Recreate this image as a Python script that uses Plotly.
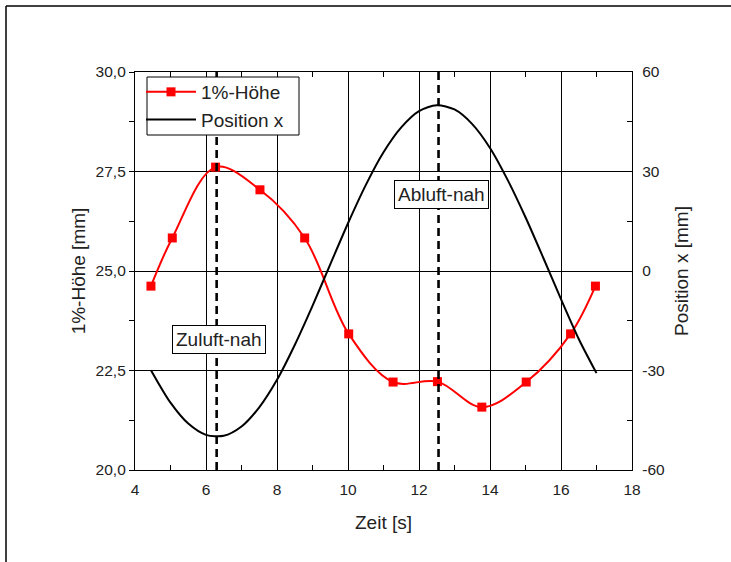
import plotly.graph_objects as go

# ---- data ----
hoehe_t = [4.45, 5.05, 6.27, 7.52, 8.78, 10.02, 11.27, 12.52, 13.77, 15.02, 16.27, 16.97]
hoehe_mm = [24.62, 25.83, 27.61, 27.04, 25.83, 23.42, 22.21, 22.22, 21.58, 22.21, 23.42, 24.62]

pos_t = [4.45, 5.0, 5.5, 6.0, 6.5, 7.0, 7.5, 8.0, 8.5, 9.0, 9.5, 10.0, 10.5, 11.0,
         11.5, 12.0, 12.5, 13.0, 13.5, 14.0, 14.5, 15.0, 15.5, 16.0, 16.5, 17.0]
pos_mm = [-29.9, -39.7, -46.0, -49.4, -49.7, -46.9, -41.1, -32.8, -22.3, -10.5, 2.0, 14.4,
          25.9, 35.8, 43.3, 48.2, 50.0, 48.7, 44.3, 37.1, 27.4, 16.2, 4.0, -8.5, -20.5, -30.8]

marker_t = [6.3, 12.55]
marker_labels = ["Zuluft-nah", "Abluft-nah"]
label_pos = [(6.38, 23.29), (12.62, 26.93)]

y1_ticks = [20.0, 22.5, 25.0, 27.5, 30.0]
y1_text = ["20,0", "22,5", "25,0", "27,5", "30,0"]
y2_ticks = [-60, -30, 0, 30, 60]
y2_text = ["-60", "-30", "0", "30", "60"]
x_ticks = [4, 6, 8, 10, 12, 14, 16, 18]

FONT = "Liberation Sans, Arial, sans-serif"
TXT = "#222222"

fig = go.Figure()
fig.add_trace(go.Scatter(
    x=hoehe_t, y=hoehe_mm, name="1%-Höhe", mode="lines+markers",
    line=dict(color="#ff0000", width=2, shape="spline", smoothing=1.0),
    marker=dict(symbol="square", size=9, color="#ff0000"),
    legendgroup="a", yaxis="y"))
fig.add_trace(go.Scatter(
    x=pos_t, y=pos_mm, name="Position x", mode="lines",
    line=dict(color="#000000", width=2, shape="spline", smoothing=0.8),
    legendgroup="b", yaxis="y2"))

L, R, T, B = 135, 99, 72, 92
W, H = 731, 562
pw, ph = W - L - R, H - T - B
px = lambda p: (p - L) / pw
py = lambda p: (H - B - p) / ph

shapes = []
for t in marker_t:
    shapes.append(dict(type="line", xref="x", yref="y", x0=t, x1=t, y0=20, y1=30,
                       line=dict(color="black", width=2.6, dash="8px,5px"), layer="above"))
# legend box
shapes.append(dict(type="rect", xref="paper", yref="paper", x0=px(147), x1=px(299), y0=py(77), y1=py(135),
                   fillcolor="white", line=dict(color="black", width=1), layer="above"))
# outer frame (top and left edges)
shapes.append(dict(type="line", xref="paper", yref="paper", x0=px(6), x1=px(731), y0=py(6), y1=py(6),
                   line=dict(color="black", width=1.5), layer="above"))
shapes.append(dict(type="line", xref="paper", yref="paper", x0=px(6), x1=px(6), y0=py(6), y1=py(562),
                   line=dict(color="black", width=1.5), layer="above"))

annotations = []
for (ax, ay), lab in zip(label_pos, marker_labels):
    annotations.append(dict(x=ax, y=ay, xref="x", yref="y", text=lab, showarrow=False,
                            font=dict(family=FONT, size=19, color=TXT),
                            bgcolor="white", bordercolor="black", borderwidth=1, borderpad=3))

fig.update_layout(
    width=W, height=H,
    margin=dict(l=L, r=R, t=T, b=B, autoexpand=False),
    paper_bgcolor="white", plot_bgcolor="white",
    font=dict(family=FONT, size=15.5, color=TXT),
    showlegend=True,
    legend=dict(x=px(141), y=py(73), xanchor="left", yanchor="top",
                bgcolor="rgba(0,0,0,0)", borderwidth=0,
                font=dict(family=FONT, size=19, color=TXT),
                itemwidth=50, tracegroupgap=4, traceorder="normal"),
    xaxis=dict(range=[4, 18], tickvals=x_ticks, showgrid=True, gridcolor="black", gridwidth=1,
               showline=True, linecolor="black", linewidth=1.3, mirror="ticks",
               ticks="inside", ticklen=5, tickcolor="black", ticklabelstandoff=5,
               minor=dict(ticks="inside", dtick=1, tick0=4, ticklen=5, tickcolor="black", showgrid=False),
               zeroline=False, automargin=False,
               title=dict(text="Zeit [s]", font=dict(size=19, color=TXT), standoff=18)),
    yaxis=dict(range=[20, 30], tickvals=y1_ticks, ticktext=y1_text, showgrid=True,
               gridcolor="black", gridwidth=1, showline=True, linecolor="black", linewidth=1.3,
               ticks="outside", ticklen=5, tickcolor="black",
               minor=dict(ticks="outside", dtick=1.25, tick0=20, ticklen=5, tickcolor="black", showgrid=False),
               zeroline=False, automargin=False,
               title=dict(text="1%-Höhe [mm]", font=dict(size=19, color=TXT), standoff=4)),
    yaxis2=dict(range=[-60, 60], overlaying="y", side="right", tickvals=y2_ticks, ticktext=y2_text,
                showgrid=False, showline=True, linecolor="black", linewidth=1.3,
                ticks="inside", ticklen=5, tickcolor="black", ticklabelstandoff=6,
                minor=dict(ticks="inside", dtick=15, tick0=-60, ticklen=5, tickcolor="black", showgrid=False),
                zeroline=False, automargin=False,
                title=dict(text="Position x [mm]", font=dict(size=19, color=TXT), standoff=10)),
    shapes=shapes, annotations=annotations,
)

fig.write_html("out.html")
